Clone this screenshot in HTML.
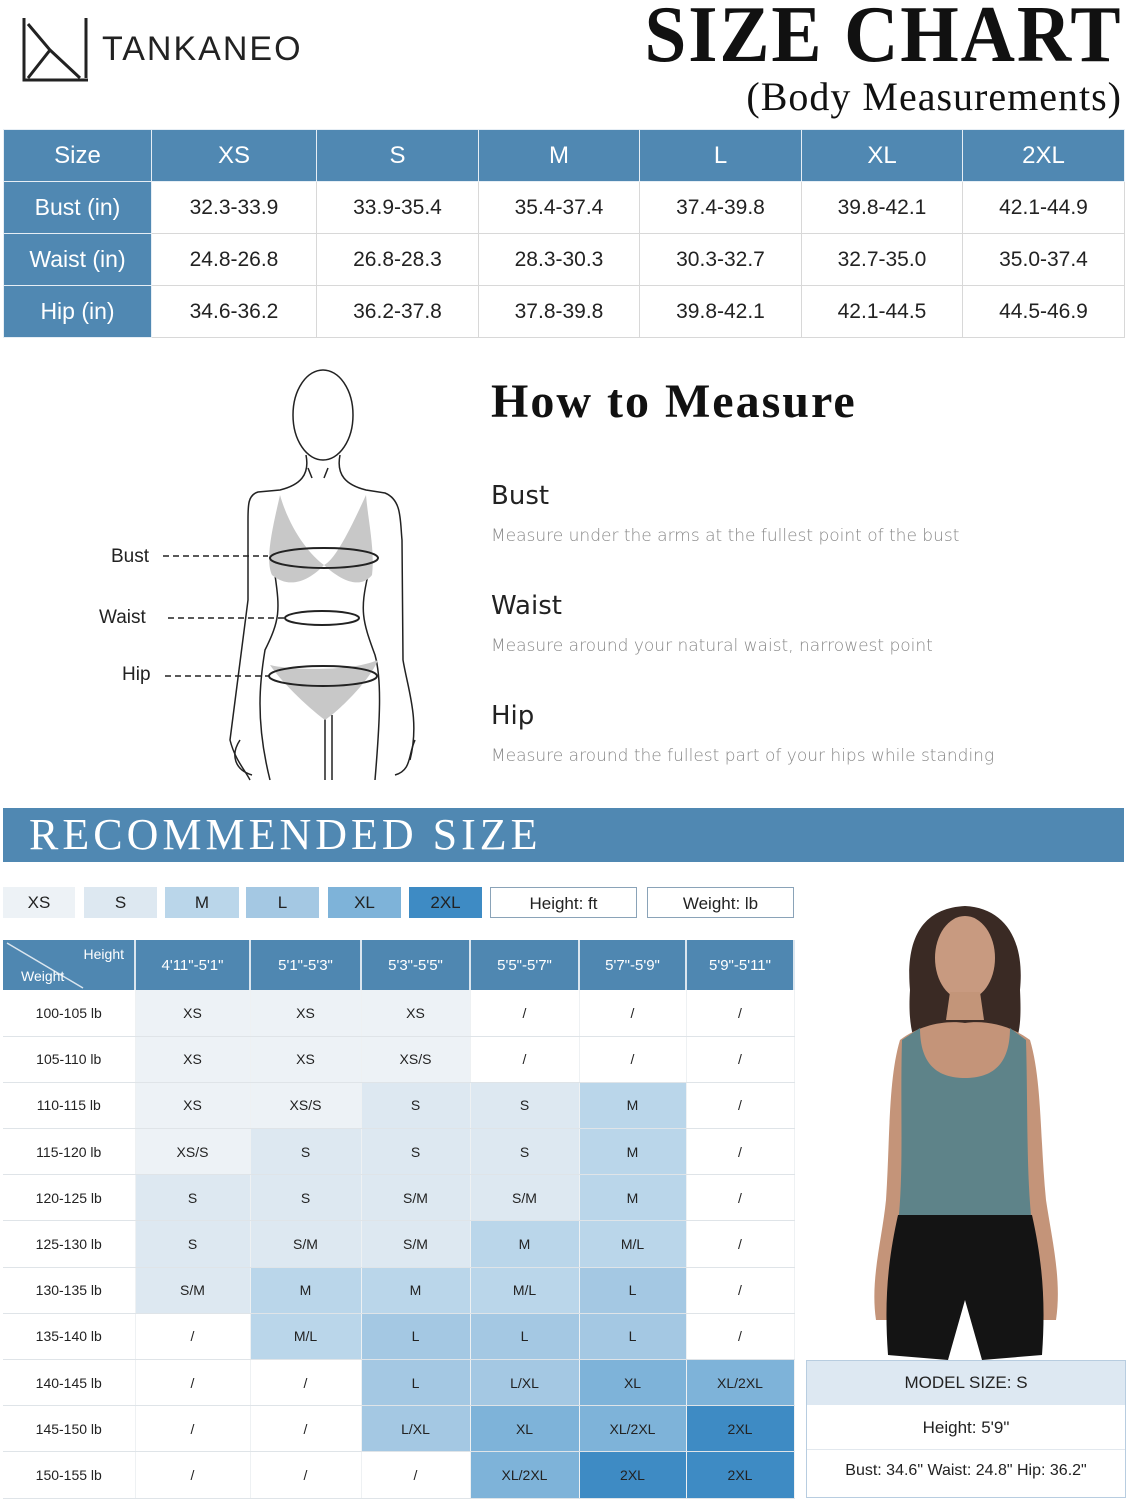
<!DOCTYPE html>
<html><head><meta charset="utf-8"><style>
*{margin:0;padding:0;box-sizing:border-box}
body{width:1130px;height:1500px;background:#fff;position:relative;overflow:hidden;font-family:"Liberation Sans",sans-serif;color:#222}
.a{position:absolute}
table{border-collapse:collapse;table-layout:fixed;position:absolute}
td{text-align:center;padding:0;overflow:hidden;white-space:nowrap}
#t1 td{height:52px;font-size:21px;border:1px solid #d8d8d8;color:#222}
#t1 .h{background:#5088b2;color:#fff;font-size:24px;border-color:#e6eef5}
#t2 td{height:46.2px;font-size:14px;border-bottom:1.5px solid #dfe4e8;border-right:1.5px solid #eef1f3}
#t2 tr.hd td{background:#4f87b1;color:#fff;height:50px;font-size:15px;border-right:2px solid #dbe6ef;border-bottom:none}
.xs{background:#edf2f6}.s{background:#dde8f1}.m{background:#bad6ea}.l{background:#a4c8e3}.xl{background:#7eb3d9}.x2{background:#3e8bc4}
.lg{position:absolute;top:887px;height:31px;font-size:17px;text-align:center;line-height:31px;color:#222}
.serif{font-family:"Liberation Serif",serif}
.hm{font-size:17px;color:#888;font-family:"DejaVu Sans",sans-serif;font-weight:300}
.hh{font-size:26px;color:#222;font-family:"DejaVu Sans",sans-serif}
</style></head><body>
<svg class="a" style="left:22px;top:16px" width="68" height="66" viewBox="0 0 68 66"><path d="M2 2V64H66" fill="none" stroke="#222" stroke-width="3"/><path d="M64 2V62M6 62L28 34L6 8M28 34L58 62" fill="none" stroke="#222" stroke-width="3"/></svg>
<div class="a" style="left:102px;top:30px;font-size:34px;letter-spacing:2px;color:#222">TANKANEO</div>
<div class="a serif" style="right:8px;top:-10px;font-size:80px;font-weight:bold;letter-spacing:2px;transform:scaleX(0.94);transform-origin:right top;color:#111;white-space:nowrap">SIZE CHART</div>
<div class="a serif" style="right:8px;top:73px;font-size:40px;letter-spacing:1px;color:#111;white-space:nowrap">(Body Measurements)</div>

<table id="t1" style="left:3px;top:129px;width:1121px">
<colgroup><col style="width:148px"><col style="width:165px"><col style="width:162px"><col style="width:161px"><col style="width:162px"><col style="width:161px"><col style="width:162px"></colgroup>
<tr><td class="h">Size</td><td class="h">XS</td><td class="h">S</td><td class="h">M</td><td class="h">L</td><td class="h">XL</td><td class="h">2XL</td></tr>
<tr><td class="h" style="font-size:23px">Bust (in)</td><td>32.3-33.9</td><td>33.9-35.4</td><td>35.4-37.4</td><td>37.4-39.8</td><td>39.8-42.1</td><td>42.1-44.9</td></tr>
<tr><td class="h" style="font-size:23px">Waist (in)</td><td>24.8-26.8</td><td>26.8-28.3</td><td>28.3-30.3</td><td>30.3-32.7</td><td>32.7-35.0</td><td>35.0-37.4</td></tr>
<tr><td class="h" style="font-size:23px">Hip (in)</td><td>34.6-36.2</td><td>36.2-37.8</td><td>37.8-39.8</td><td>39.8-42.1</td><td>42.1-44.5</td><td>44.5-46.9</td></tr>
</table>

<svg class="a" style="left:90px;top:360px" width="350" height="430" viewBox="0 0 350 430" fill="none" stroke="#222" stroke-width="1.5">
<ellipse cx="233" cy="55" rx="30" ry="45"/>
<path d="M216 95 C220 115 210 125 190 130 L168 132 C158 135 158 145 158 160 L158 240 C150 300 145 340 140 380 C145 400 155 410 160 420"/>
<path d="M250 95 C246 115 256 125 276 130 L295 133 C312 140 310 160 312 180 L313 300 C318 330 330 360 320 400"/>
<path d="M218 108 L222 118M238 108 L234 118"/>
<path d="M185 215 C190 250 190 260 175 290 C170 320 165 360 180 420"/>
<path d="M278 215 C270 250 272 260 285 295 C292 320 290 360 285 420"/>
<path d="M235 355 V420M242 355V420"/>
<path d="M150 380 C140 395 145 410 162 415"/>
<path d="M325 380 C318 395 322 410 305 415"/>
<path d="M190 135 C182 170 175 200 182 215 C200 230 220 220 234 205 C250 220 270 230 282 215 C285 190 278 160 276 135 C260 170 245 200 234 205 C220 195 200 170 190 135Z" fill="#c8c8c8" stroke="none"/>
<path d="M180 305 C200 310 260 312 288 300 C280 320 250 350 235 360 C215 345 190 320 180 305Z" fill="#c8c8c8" stroke="none"/>
<ellipse cx="234" cy="198" rx="54" ry="10" stroke-width="2"/>
<ellipse cx="232" cy="258" rx="37" ry="7" stroke-width="2"/>
<ellipse cx="233" cy="316" rx="54" ry="10" stroke-width="2"/>
<path d="M73 196H178M78 258H195M75 316H180" stroke-dasharray="6 4"/>
</svg>
<div class="a" style="left:111px;top:546px;font-size:19px">Bust</div>
<div class="a" style="left:99px;top:607px;font-size:19px">Waist</div>
<div class="a" style="left:122px;top:664px;font-size:19px">Hip</div>

<div class="a serif" style="left:491px;top:374px;font-size:48px;font-weight:bold;color:#111;letter-spacing:2px;white-space:nowrap">How to Measure</div>
<div class="a hh" style="left:491px;top:481px">Bust</div>
<div class="a hm" style="left:491px;top:526px">Measure under the arms at the fullest point of the bust</div>
<div class="a hh" style="left:491px;top:591px">Waist</div>
<div class="a hm" style="left:491px;top:636px">Measure around your natural waist, narrowest point</div>
<div class="a hh" style="left:491px;top:701px">Hip</div>
<div class="a hm" style="left:491px;top:746px">Measure around the fullest part of your hips while standing</div>

<div class="a serif" style="left:3px;top:808px;width:1121px;height:54px;background:#5088b2;color:#fff;font-size:44px;letter-spacing:4px;line-height:54px;padding-left:26px">RECOMMENDED SIZE</div>

<div class="lg xs" style="left:3px;width:72px">XS</div>
<div class="lg s" style="left:84px;width:73px">S</div>
<div class="lg m" style="left:165px;width:74px">M</div>
<div class="lg l" style="left:246px;width:73px">L</div>
<div class="lg xl" style="left:328px;width:73px">XL</div>
<div class="lg x2" style="left:409px;width:73px">2XL</div>
<div class="lg" style="left:490px;width:147px;border:1.5px solid #8aa3b8">Height: ft</div>
<div class="lg" style="left:647px;width:147px;border:1.5px solid #8aa3b8">Weight: lb</div>

<table id="t2" style="left:3px;top:940px;width:791px">
<colgroup><col style="width:132px"><col style="width:115px"><col style="width:111px"><col style="width:109px"><col style="width:109px"><col style="width:107px"><col style="width:108px"></colgroup>
<tr class="hd"><td style="position:relative;font-size:14px"><svg class="a" style="left:0;top:0" width="132" height="50"><line x1="4" y1="3" x2="80" y2="48" stroke="#dbe6ef" stroke-width="1.5"/></svg><span class="a" style="right:10px;top:6px">Height</span><span class="a" style="left:18px;top:28px">Weight</span></td><td>4'11"-5'1"</td><td>5'1"-5'3"</td><td>5'3"-5'5"</td><td>5'5"-5'7"</td><td>5'7"-5'9"</td><td>5'9"-5'11"</td></tr>
<tr><td>100-105 lb</td><td class="xs">XS</td><td class="xs">XS</td><td class="xs">XS</td><td>/</td><td>/</td><td>/</td></tr>
<tr><td>105-110 lb</td><td class="xs">XS</td><td class="xs">XS</td><td class="xs">XS/S</td><td>/</td><td>/</td><td>/</td></tr>
<tr><td>110-115 lb</td><td class="xs">XS</td><td class="xs">XS/S</td><td class="s">S</td><td class="s">S</td><td class="m">M</td><td>/</td></tr>
<tr><td>115-120 lb</td><td class="xs">XS/S</td><td class="s">S</td><td class="s">S</td><td class="s">S</td><td class="m">M</td><td>/</td></tr>
<tr><td>120-125 lb</td><td class="s">S</td><td class="s">S</td><td class="s">S/M</td><td class="s">S/M</td><td class="m">M</td><td>/</td></tr>
<tr><td>125-130 lb</td><td class="s">S</td><td class="s">S/M</td><td class="s">S/M</td><td class="m">M</td><td class="m">M/L</td><td>/</td></tr>
<tr><td>130-135 lb</td><td class="s">S/M</td><td class="m">M</td><td class="m">M</td><td class="m">M/L</td><td class="l">L</td><td>/</td></tr>
<tr><td>135-140 lb</td><td>/</td><td class="m">M/L</td><td class="l">L</td><td class="l">L</td><td class="l">L</td><td>/</td></tr>
<tr><td>140-145 lb</td><td>/</td><td>/</td><td class="l">L</td><td class="l">L/XL</td><td class="xl">XL</td><td class="xl">XL/2XL</td></tr>
<tr><td>145-150 lb</td><td>/</td><td>/</td><td class="l">L/XL</td><td class="xl">XL</td><td class="xl">XL/2XL</td><td class="x2">2XL</td></tr>
<tr><td>150-155 lb</td><td>/</td><td>/</td><td>/</td><td class="xl">XL/2XL</td><td class="x2">2XL</td><td class="x2">2XL</td></tr>
</table>

<svg class="a" style="left:800px;top:880px" width="330" height="480" viewBox="0 0 330 480">
<path d="M110 110 C105 55 125 28 165 26 C205 28 225 60 220 110 C222 150 218 160 210 170 L120 170 C112 160 108 140 110 110Z" fill="#3a2a24"/>
<ellipse cx="165" cy="78" rx="30" ry="42" fill="#c89a80"/>
<path d="M150 112 L180 112 L184 140 L146 140Z" fill="#c39579"/>
<path d="M100 160 C120 145 145 140 165 143 C185 140 210 145 230 160 C242 200 240 260 246 320 C252 360 262 400 256 440 L242 440 C234 400 230 360 226 320 L104 320 C100 360 96 400 90 440 L76 440 C70 400 82 360 86 320 C90 260 88 200 100 160Z" fill="#c49479"/>
<path d="M120 148 C120 185 138 198 165 198 C192 198 210 185 210 148 L226 160 C228 230 226 290 232 345 L98 345 C104 290 100 230 102 160Z" fill="#5e8389"/>
<path d="M98 335 L232 335 C242 380 246 420 242 475 L182 480 L165 420 L148 480 L88 475 C84 420 88 380 98 335Z" fill="#141414"/>
</svg>
<div class="a" style="left:806px;top:1360px;width:320px;height:138px;border:1.5px solid #b8cde0;background:#fff">
<div style="height:44px;background:#dde8f2;text-align:center;line-height:44px;font-size:17px">MODEL SIZE: S</div>
<div style="height:45px;text-align:center;line-height:45px;font-size:17px;border-bottom:1px solid #e2e8ee">Height: 5'9"</div>
<div style="height:45px;text-align:center;line-height:42px;font-size:16px">Bust: 34.6" Waist: 24.8" Hip: 36.2"</div>
</div>
</body></html>
